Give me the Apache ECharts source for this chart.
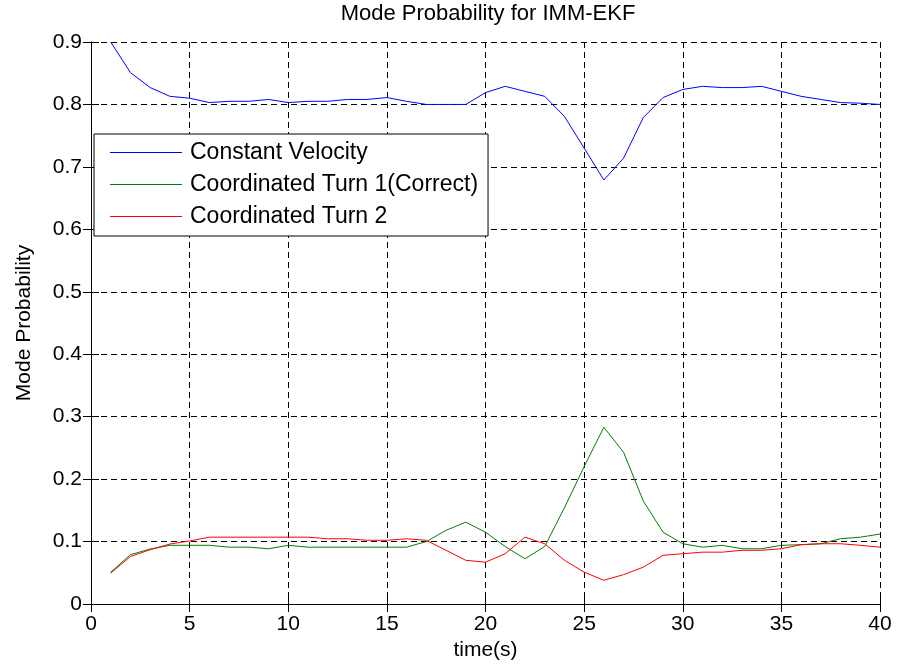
<!DOCTYPE html>
<html>
<head>
<meta charset="utf-8">
<script src="https://cdn.jsdelivr.net/npm/echarts@6/dist/echarts.min.js"></script>
<style>
html,body{margin:0;padding:0;background:#fff;}
#chart{width:899px;height:670px;}
</style>
</head>
<body>
<div id="chart"></div>
<script>
const time = [1,2,3,4,5,6,7,8,9,10,11,12,13,14,15,16,17,18,19,20,21,22,23,24,25,26,27,28,29,30,31,32,33,34,35,36,37,38,39,40];
const constantVelocity = [0.9, 0.851, 0.827, 0.813, 0.81, 0.803, 0.805, 0.805, 0.808, 0.803, 0.805, 0.805, 0.808, 0.808, 0.811, 0.805, 0.8, 0.8, 0.8, 0.819, 0.829, 0.821, 0.813, 0.781, 0.73, 0.679, 0.714, 0.779, 0.811, 0.824, 0.829, 0.827, 0.827, 0.829, 0.821, 0.813, 0.808, 0.803, 0.802, 0.8];
const coordTurn1 = [0.051, 0.079, 0.088, 0.094, 0.094, 0.094, 0.091, 0.091, 0.0885, 0.094, 0.091, 0.091, 0.091, 0.091, 0.091, 0.091, 0.1, 0.118, 0.131, 0.115, 0.092, 0.0725, 0.092, 0.154, 0.22, 0.283, 0.243, 0.165, 0.115, 0.0965, 0.091, 0.094, 0.0885, 0.0885, 0.094, 0.095, 0.0965, 0.1045, 0.107, 0.112];
const coordTurn2 = [0.0495, 0.076, 0.087, 0.096, 0.101, 0.107, 0.107, 0.107, 0.107, 0.107, 0.107, 0.1045, 0.1045, 0.102, 0.102, 0.1045, 0.102, 0.086, 0.07, 0.067, 0.0805, 0.107, 0.0965, 0.07, 0.051, 0.038, 0.047, 0.059, 0.078, 0.0805, 0.083, 0.083, 0.086, 0.086, 0.0885, 0.095, 0.0965, 0.0965, 0.094, 0.091];
const seriesNames = ['Constant Velocity', 'Coordinated Turn 1(Correct)', 'Coordinated Turn 2'];
const seriesColors = ['#0000ff', '#008000', '#ff0000'];
const titleText = 'Mode Probability for IMM-EKF';
const xName = 'time(s)';
const yName = 'Mode Probability';

const FONT = "'Liberation Sans', Arial, sans-serif";
const pairs = arr => time.map((t, i) => [t, arr[i]]);
const chart = echarts.init(document.getElementById('chart'), null, {renderer: 'canvas'});

const mainAxisCommon = {
  axisLine: {show: true, lineStyle: {color: '#000', width: 1}},
  axisTick: {show: true, inside: true, length: 8, lineStyle: {color: '#000'}},
  splitLine: {show: true, lineStyle: {color: '#000', type: [6, 4], width: 1}},
  axisLabel: {color: '#000', fontSize: 21, fontFamily: FONT}
};
const mirrorCommon = {
  axisLine: {show: true, lineStyle: {color: '#000', width: 1}},
  axisTick: {show: true, inside: true, length: 8, lineStyle: {color: '#000'}},
  splitLine: {show: false},
  axisLabel: {show: false}
};

chart.setOption({
  animation: false,
  backgroundColor: '#fff',
  title: {
    text: titleText, left: 488, top: 3, textAlign: 'center', padding: 0,
    textStyle: {fontSize: 22, fontWeight: 'normal', color: '#000', fontFamily: FONT}
  },
  grid: {left: 91, right: 19, top: 42, bottom: 66, containLabel: false},
  legend: {
    orient: 'vertical', left: 94, top: 134,
    padding: [7, 10, 8, 16],
    icon: 'rect',
    itemWidth: 72, itemHeight: 1, itemGap: 9,
    backgroundColor: '#fff', borderColor: '#000', borderWidth: 1,
    textStyle: {fontSize: 23, color: '#000', fontFamily: FONT, lineHeight: 22, padding: [0, 0, 0, 3]},
    data: seriesNames
  },
  xAxis: [
    Object.assign({type: 'value', min: 0, max: 40, interval: 5, position: 'bottom',
      name: xName, nameLocation: 'middle', nameGap: 35,
      nameTextStyle: {fontSize: 21, color: '#000', fontFamily: FONT}}, mainAxisCommon,
      {axisLabel: Object.assign({}, mainAxisCommon.axisLabel, {margin: 10})}),
    Object.assign({type: 'value', min: 0, max: 40, interval: 5, position: 'top'}, mirrorCommon)
  ],
  yAxis: [
    Object.assign({type: 'value', min: 0, max: 0.9, interval: 0.1, position: 'left',
      name: yName, nameLocation: 'middle', nameGap: 56, nameRotate: 90,
      nameTextStyle: {fontSize: 21, color: '#000', fontFamily: FONT}}, mainAxisCommon,
      {axisLabel: Object.assign({}, mainAxisCommon.axisLabel, {margin: 9})}),
    Object.assign({type: 'value', min: 0, max: 0.9, interval: 0.1, position: 'right'}, mirrorCommon)
  ],
  series: [constantVelocity, coordTurn1, coordTurn2].map((arr, i) => ({
    name: seriesNames[i], type: 'line', data: pairs(arr),
    xAxisIndex: 0, yAxisIndex: 0,
    symbol: 'none', showSymbol: false, clip: true,
    lineStyle: {color: seriesColors[i], width: 1},
    itemStyle: {color: seriesColors[i]}
  }))
});
</script>
</body>
</html>
